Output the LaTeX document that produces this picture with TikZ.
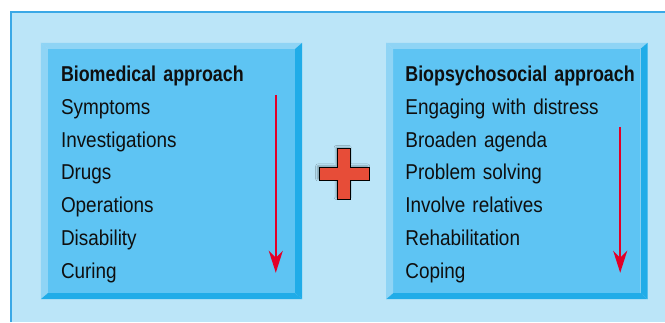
\documentclass[tikz,border=0pt]{standalone}
\usepackage{fontspec}
\setmainfont{Liberation Sans}[FakeStretch=0.88,BoldFeatures={FakeStretch=0.83}]
\usetikzlibrary{positioning,calc,arrows.meta,shadows.blur}
\definecolor{panelblue}{RGB}{187,229,248}
\definecolor{rimblue}{RGB}{58,168,230}
\definecolor{faceblue}{RGB}{94,196,243}
\definecolor{liteblue}{RGB}{143,212,245}
\definecolor{deepblue}{RGB}{32,172,232}
\definecolor{arrowred}{RGB}{226,0,39}
\definecolor{plusred}{RGB}{231,77,56}
\definecolor{fontgray}{RGB}{15,15,15}

\begin{document}
\begin{tikzpicture}[x=1pt, y=1pt, node distance=12.3pt and 98pt, >=Stealth,
		face/.style={draw=none, fill=faceblue, rectangle, minimum width=247pt, minimum height=244pt, inner sep=0pt},
		item/.style={draw=none, rectangle, inner sep=0pt, text width=232pt, align=left, text height=15pt, text depth=5pt, text=fontgray, font=\fontsize{21.5}{25}\selectfont},
		head/.style={item, font=\fontsize{21.5}{25}\selectfont\bfseries, anchor=base west},
		downLine/.style={line width=2pt, ->, >={Stealth[length=22pt, width=14pt, inset=7pt]}, color=arrowred},
		plusbar/.style={draw=black, line width=1pt, fill=plusred, blur shadow={shadow xshift=-1.5pt, shadow yshift=1.5pt, shadow blur radius=2pt, shadow opacity=35}}
		]
		\useasboundingbox (0,0) rectangle (665,322);
		
		% background panel
		\fill[panelblue] (11,0) rectangle (665,310);
		\draw[rimblue, line width=1.5pt] (11,0) -- (11,310) -- (665,310);
		
		\node[face](lbox) at (171.5,151) {};
		\node[face](rbox) [right= of lbox] {};
		
		\foreach \b in {lbox,rbox}{
			\fill[liteblue] (\b.north west) -- ++(-7,6) -- ($(\b.north east)+(7,6)$) -- (\b.north east) -- cycle;
			\fill[liteblue] (\b.north west) -- ++(-7,6) -- ($(\b.south west)+(-7,-6)$) -- (\b.south west) -- cycle;
			\fill[deepblue] (\b.north east) -- ++(7,6) -- ($(\b.south east)+(7,-6)$) -- (\b.south east) -- cycle;
			\fill[deepblue] (\b.south west) -- ++(-7,-6) -- ($(\b.south east)+(7,-6)$) -- (\b.south east) -- cycle;
		}
		
		\node[head](lhead) at ($(lbox.north west)+(13,-33)$) {Biomedical approach};
		\node[item](l1) [below= of lhead] {Symptoms};
		\node[item](l2) [below= of l1] {Investigations};
		\node[item](l3) [below= of l2] {Drugs};
		\node[item](l4) [below= of l3] {Operations};
		\node[item](l5) [below= of l4] {Disability};
		\node[item](l6) [below= of l5] {Curing};
		
		\node[head](rhead) at ($(rbox.north west)+(12,-33)$) {Biopsychosocial approach};
		\node[item](r1) [below= of rhead] {Engaging with distress};
		\node[item](r2) [below= of r1] {Broaden agenda};
		\node[item](r3) [below= of r2] {Problem solving};
		\node[item](r4) [below= of r3] {Involve relatives};
		\node[item](r5) [below= of r4] {Rehabilitation};
		\node[item](r6) [below= of r5] {Coping};
		
		\coordinate (la1) at ($(lbox.north west)+(228,-46)$);
		\coordinate (la2) at ($(lbox.north west)+(228,-224)$);
		\coordinate (ra1) at ($(rbox.north west)+(227,-78)$);
		\coordinate (ra2) at ($(rbox.north west)+(227,-224)$);
		\draw [downLine] (la1) to [] (la2);
		\draw [downLine] (ra1) to [] (ra2);
		
		% plus sign between the boxes
		\coordinate (plusc) at ($(lbox.east)!0.5!(rbox.west)+(0,-3)$);
		\draw[plusbar] (plusc) ++(-6.5,25) -- ++(13,0) -- ++(0,-18.5) -- ++(18.5,0) -- ++(0,-13) -- ++(-18.5,0) -- ++(0,-18.5) -- ++(-13,0) -- ++(0,18.5) -- ++(-18.5,0) -- ++(0,13) -- ++(18.5,0) -- cycle;
		\end{tikzpicture}
\end{document}
